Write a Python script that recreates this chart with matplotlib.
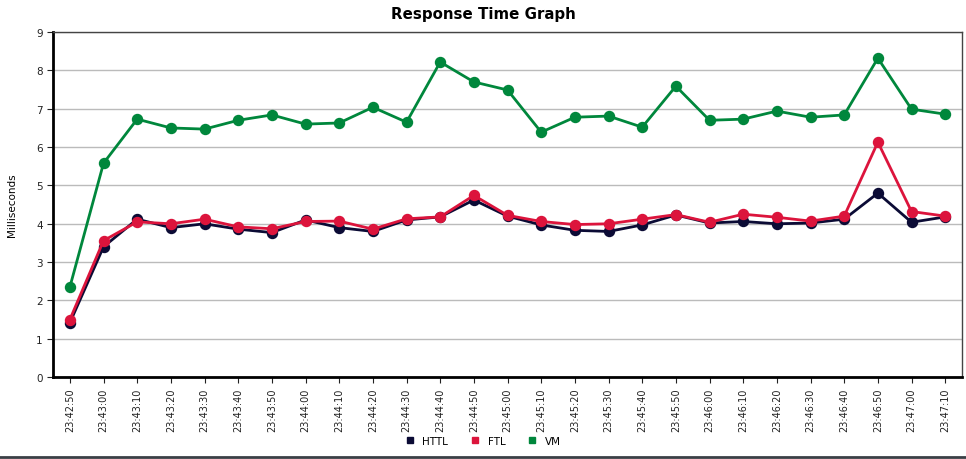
import numpy as np
import matplotlib
matplotlib.use("Agg")
import matplotlib.pyplot as plt
from matplotlib.lines import Line2D

# time labels (10 s steps)
times = ['23:42:50', '23:43:00', '23:43:10', '23:43:20', '23:43:30', '23:43:40',
         '23:43:50', '23:44:00', '23:44:10', '23:44:20', '23:44:30', '23:44:40',
         '23:44:50', '23:45:00', '23:45:10', '23:45:20', '23:45:30', '23:45:40',
         '23:45:50', '23:46:00', '23:46:10', '23:46:20', '23:46:30', '23:46:40',
         '23:46:50', '23:47:00', '23:47:10']

httl = [1.42, 3.40, 4.12, 3.90, 4.00, 3.86, 3.77, 4.10, 3.90, 3.80, 4.10, 4.18,
        4.62, 4.20, 3.97, 3.83, 3.80, 3.97, 4.23, 4.02, 4.06, 4.00, 4.02, 4.12,
        4.80, 4.04, 4.18]
ftl = [1.50, 3.56, 4.05, 4.00, 4.12, 3.92, 3.87, 4.06, 4.07, 3.86, 4.13, 4.18,
       4.74, 4.22, 4.06, 3.98, 4.00, 4.12, 4.24, 4.04, 4.25, 4.17, 4.07, 4.20,
       6.13, 4.32, 4.20]
vm = [2.35, 5.58, 6.73, 6.50, 6.47, 6.70, 6.84, 6.60, 6.63, 7.04, 6.65, 8.22,
      7.70, 7.49, 6.39, 6.78, 6.81, 6.52, 7.59, 6.70, 6.73, 6.94, 6.78, 6.84,
      8.32, 6.99, 6.86]

series = [('HTTL', httl, '#0b0b35'), ('FTL', ftl, '#dc143c'), ('VM', vm, '#00873c')]

fig = plt.figure(figsize=(9.66, 4.6), dpi=100)
ax = fig.add_axes([0.0549, 0.178, 0.9410, 0.750])

x = np.arange(len(times))
for name, vals, col in series:
    ax.plot(x, vals, color=col, lw=2.0, marker='o', ms=7.2, label=name, zorder=3)

ax.set_xlim(-0.5, len(times) - 0.5)
ax.set_ylim(0, 9)
ax.set_yticks(range(0, 10))
ax.set_xticks(x)
ax.set_xticklabels(times, rotation=90, fontsize=7, color='#222222')
ax.tick_params(axis='y', labelsize=7.5, colors='#222222', length=4)
ax.tick_params(axis='x', length=4, colors='#222222')
ax.grid(axis='y', color='#bbbbbb', lw=1)
ax.set_axisbelow(True)

for s in ['left', 'bottom']:
    ax.spines[s].set_linewidth(2)
    ax.spines[s].set_color('black')
for s in ['top', 'right']:
    ax.spines[s].set_linewidth(1.0)
    ax.spines[s].set_color('#444444')

ax.set_ylabel('Milliseconds', fontsize=7.5, labelpad=14)
fig.suptitle('Response Time Graph', fontsize=10.8, fontweight='bold', y=0.985)

handles = [Line2D([], [], ls='none', marker='s', ms=5, color=c) for _, _, c in series]
fig.legend(handles, [n for n, _, _ in series], loc='center', bbox_to_anchor=(0.497, 0.04),
           ncol=3, frameon=False, fontsize=7.5, handletextpad=0.2, columnspacing=1.6)

# dark line along the bottom edge
fig.add_artist(Line2D([0, 1], [0.005, 0.005], transform=fig.transFigure, color='#3a3f45', lw=2))

fig.savefig('out.png', dpi=100)
